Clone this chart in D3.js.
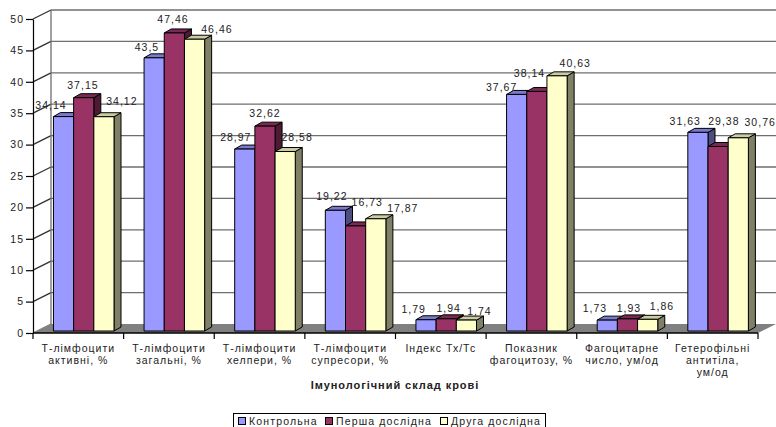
<!DOCTYPE html>
<html>
<head>
<meta charset="utf-8">
<script src="https://cdn.jsdelivr.net/npm/d3@7"></script>
<style>
  html, body { margin: 0; padding: 0; background: #fff; overflow: hidden; }
  text { font-family: "Liberation Sans", Arial, sans-serif; fill: #222; letter-spacing: 1px; }
</style>
</head>
<body>
<div id="chart"></div>
<script>
const categories = [
  ["Т-лімфоцити", "активні, %"],
  ["Т-лімфоцити", "загальні, %"],
  ["Т-лімфоцити", "хелпери, %"],
  ["Т-лімфоцити", "супресори, %"],
  ["Індекс Тх/Тс"],
  ["Показник", "фагоцитозу, %"],
  ["Фагоцитарне", "число, ум/од"],
  ["Гетерофільні", "антитіла,", "ум/од"]
];
const seriesNames = ["Контрольна", "Перша дослідна", "Друга дослідна"];
const control = [34.14, 43.5, 28.97, 19.22, 1.79, 37.67, 1.73, 31.63];
const first = [37.15, 47.46, 32.62, 16.73, 1.94, 38.14, 1.93, 29.38];
const second = [34.12, 46.46, 28.58, 17.87, 1.74, 40.63, 1.86, 30.76];
const series = [control, first, second];
const faceColors = ["#9999ff", "#993366", "#ffffcc"];
const topColors = ["#7a7acc", "#7a2952", "#cccca3"];
const sideColors = ["#4d4d80", "#4d1a33", "#808066"];
const yTicks = d3.range(0, 51, 5);

// зсуви підписів відносно верху стовпчика (як розставлено в оригіналі)
const nudgeX = [
  [-12.6, -0.8, 18], [-7.2, -1.4, 22.4], [-9, 0, 12], [-3.5, 11.6, 27],
  [-12.3, 2.4, 13], [-15, -7.4, 18.2], [-12.4, 1.4, 14.2], [-12.7, 5.8, 21.9]
];
const nudgeY = [
  [-11.6, -12.7, -15.7], [-10.8, -13.9, -10.2], [-12.4, -13, -14.8], [-14.6, -24.2, -10.8],
  [-10.5, -10.8, -9.4], [-7.7, -18.8, -13.1], [-12.1, -11.2, -13.6], [-11.7, -25.8, -15.5]
];

const width = 776, height = 427;
const depthX = 18, depthY = 9;    // глибина стін
const barDX = 7, barDY = 4;       // глибина стовпчика
const x0 = 33, x1 = 758, y0 = 333, y1 = 19;
const barBase = -2;               // стовпчики стоять трохи вище осі
const fontSize = 10.5;

const svg = d3.select("#chart").append("svg")
  .attr("width", width)
  .attr("height", height)
  .attr("viewBox", `0 0 ${width} ${height}`)
  .style("display", "block");

const y = d3.scaleLinear().domain([0, 50]).range([y0, y1]);
const xCat = d3.scaleBand().domain(d3.range(categories.length)).range([x0, x1]);
const xBar = d3.scaleBand().domain(d3.range(series.length))
  .range([0, xCat.bandwidth()]).paddingOuter(0.745).paddingInner(0).align(0.68);

// підлога
svg.append("path")
  .attr("d", d3.line()([[x0, y0], [x0 + depthX, y0 - depthY], [x1 + depthX, y0 - depthY], [x1, y0]]))
  .attr("fill", "#808080");

// сітка на задній та бічній стінці
const grid = svg.append("g").attr("fill", "none").attr("stroke", "#6e6e6e").attr("stroke-width", 1.3);
yTicks.forEach(t => {
  if (t > 0) {
    grid.append("line")
      .attr("x1", x0 + depthX).attr("x2", x1 + depthX)
      .attr("y1", y(t) - depthY).attr("y2", y(t) - depthY);
  }
  grid.append("line")
    .attr("x1", x0).attr("x2", x0 + depthX)
    .attr("y1", y(t)).attr("y2", y(t) - depthY)
    .attr("stroke", t === 0 ? "#808080" : "#333");
});
grid.append("line")
  .attr("x1", x0 + depthX).attr("x2", x0 + depthX)
  .attr("y1", y(0) - depthY).attr("y2", y(50) - depthY);

// стовпчики
categories.forEach((cat, i) => {
  series.forEach((values, s) => {
    const v = values[i];
    const bx = xCat(i) + xBar(s);
    const bw = xBar.bandwidth();
    const top = y(v) + barBase;
    const bottom = y(0) + barBase;
    const g = svg.append("g").attr("stroke", "#000").attr("stroke-width", 1).attr("stroke-linejoin", "round");
    g.append("path")
      .attr("d", d3.line()([[bx + bw, top], [bx + bw + barDX, top - barDY], [bx + bw + barDX, bottom - barDY], [bx + bw, bottom]]) + "Z")
      .attr("fill", sideColors[s]);
    g.append("path")
      .attr("d", d3.line()([[bx, top], [bx + barDX, top - barDY], [bx + bw + barDX, top - barDY], [bx + bw, top]]) + "Z")
      .attr("fill", topColors[s]);
    g.append("rect")
      .attr("x", bx).attr("y", top)
      .attr("width", bw).attr("height", bottom - top)
      .attr("fill", faceColors[s]);
  });
});

// підписи значень
categories.forEach((cat, i) => {
  series.forEach((values, s) => {
    const v = values[i];
    svg.append("text")
      .attr("x", xCat(i) + xBar(s) + xBar.bandwidth() / 2 + nudgeX[i][s])
      .attr("y", y(v) + barBase + nudgeY[i][s] + 4)
      .attr("text-anchor", "middle")
      .attr("font-size", fontSize)
      .text(String(v).replace(".", ","));
  });
});

// вісь Y
const yAxis = svg.append("g")
  .attr("transform", `translate(${x0},0)`)
  .call(d3.axisLeft(y).tickValues(yTicks).tickSize(7).tickPadding(2).tickSizeOuter(0));
yAxis.selectAll("text").attr("font-size", fontSize).style("font-family", "'Liberation Sans', Arial, sans-serif");
yAxis.selectAll("line, path").attr("stroke", "#000").attr("stroke-width", 1.2);

// вісь X
const xAxisG = svg.append("g").attr("stroke", "#000");
xAxisG.append("line").attr("x1", x0).attr("x2", x1).attr("y1", y0).attr("y2", y0).attr("stroke-width", 1.4);
d3.range(categories.length + 1).forEach(i => {
  const tx = i < categories.length ? xCat(i) : x1;
  xAxisG.append("line").attr("x1", tx).attr("x2", tx).attr("y1", y0).attr("y2", y0 + 6).attr("stroke-width", 1.2);
});
categories.forEach((cat, i) => {
  const t = svg.append("text")
    .attr("text-anchor", "middle")
    .attr("font-size", fontSize);
  cat.forEach((line, k) => {
    t.append("tspan")
      .attr("x", xCat(i) + xCat.bandwidth() / 2)
      .attr("y", 352 + k * 12.2)
      .text(line);
  });
});

// назва осі
svg.append("text")
  .attr("x", 395).attr("y", 389)
  .attr("text-anchor", "middle")
  .attr("font-size", 11)
  .attr("font-weight", "bold")
  .style("letter-spacing", "0.95px")
  .text("Імунологічний склад крові");

// легенда
const legend = svg.append("g");
legend.append("rect")
  .attr("x", 233.5).attr("y", 413.5)
  .attr("width", 312).attr("height", 20)
  .attr("fill", "#fff").attr("stroke", "#000");
const legendX = [238, 325, 440];
seriesNames.forEach((name, s) => {
  legend.append("rect")
    .attr("x", legendX[s] + 0.5).attr("y", 417.5)
    .attr("width", 7).attr("height", 7)
    .attr("fill", faceColors[s]).attr("stroke", "#000");
  legend.append("text")
    .attr("x", legendX[s] + 11).attr("y", 425)
    .attr("font-size", fontSize)
    .style("letter-spacing", "1.15px")
    .text(name);
});
</script>
</body>
</html>
